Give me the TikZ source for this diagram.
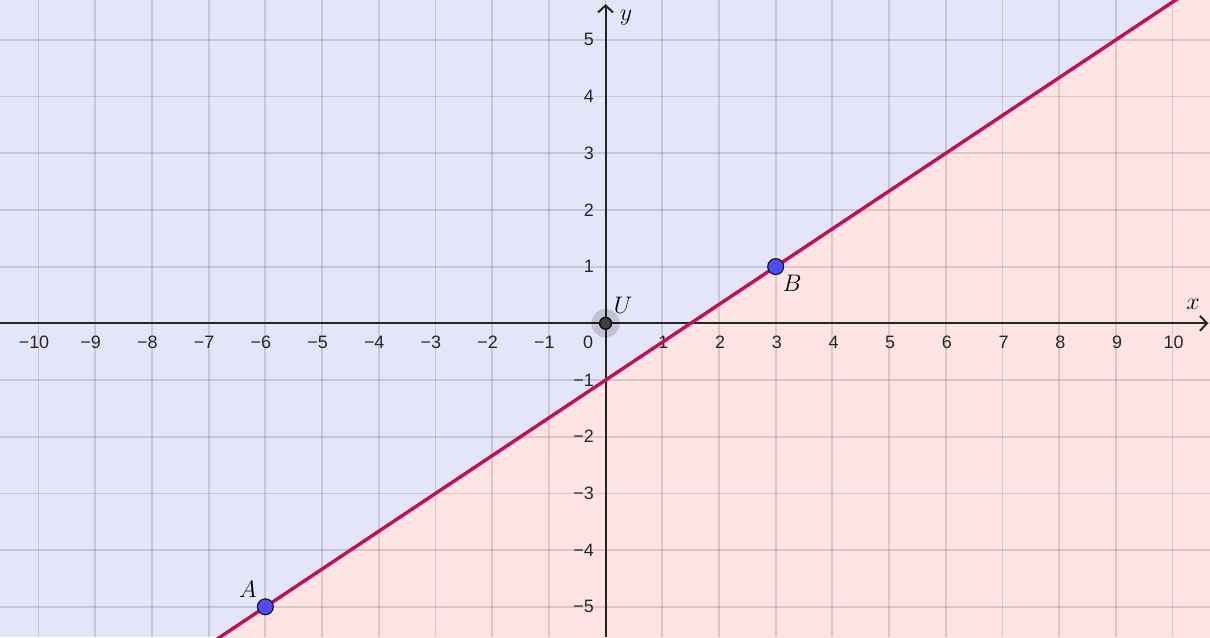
\documentclass[tikz,border=0pt]{standalone}
\usepackage{fontspec}
\setmainfont{Liberation Sans}
\usetikzlibrary{arrows.meta,calc}
\definecolor{planeblue}{RGB}{229,229,250}
\definecolor{planepink}{RGB}{255,228,228}
\definecolor{linecrimson}{RGB}{194,16,80}
\definecolor{ptblue}{RGB}{77,77,255}
\definecolor{axisdark}{RGB}{37,37,37}
\definecolor{ptdark}{RGB}{64,64,64}

\begin{document}
\begin{tikzpicture}[
  gridline/.style={black,opacity=0.13,line width=0.9pt},
  axisline/.style={axisdark,line width=1pt,-{Straight Barb[length=3.5pt,width=7.5pt]}},
  ticklabel/.style={font=\fontsize{9}{10}\selectfont,text=black!85,inner sep=0pt},
  ptlabel/.style={font=\fontsize{11.5}{13}\selectfont,inner sep=0pt},
  bluept/.style={circle,draw=black!90,fill=ptblue,line width=0.6pt,minimum size=0.28cm,inner sep=0pt},
  darkpt/.style={circle,draw=black,fill=ptdark,line width=0.6pt,minimum size=0.21cm,inner sep=0pt}
]
\useasboundingbox (-10.68,-5.533) rectangle (10.66,5.702);
\coordinate (O) at (0,0);
\coordinate (A) at (-6,-5);
\coordinate (B) at (3,1);

% half planes and grid
\begin{scope}
  \clip (-10.68,-5.533) rectangle (10.66,5.702);
  \fill[planeblue] (-10.68,-5.533) rectangle (10.66,5.702);
  \fill[planepink] ($(A)!-1!(B)$) -- ($(A)!2!(B)$) -- (14,-12) -- cycle;
  \foreach \x in {-10,...,10} \draw[gridline] (\x,-5.533) -- (\x,5.702);
  \foreach \y in {-5,...,5} \draw[gridline] (-10.68,\y) -- (10.66,\y);
\end{scope}

% axes
\draw[axisline] (-10.68,0) -- (10.63,0);
\draw[axisline] (0,-5.533) -- (0,5.63);
\node[ptlabel] (xlab) at (10.36,0.34) {$x$};
\node[ptlabel] (ylab) at (0.36,5.39) {$y$};

% tick labels
\foreach \x in {1,...,10} \node[ticklabel] (xt\x) at (\x+0.02,-0.33) {\x};
\foreach \x in {1,...,10} \node[ticklabel] (xtm\x) at (-\x-0.08,-0.33) {−\x};
\foreach \y in {1,...,5} \node[ticklabel,anchor=east] (yt\y) at (-0.2,\y) {\y};
\foreach \y in {1,...,5} \node[ticklabel,anchor=east] (ytm\y) at (-0.2,-\y) {−\y};
\node[ticklabel] (zero) at (-0.31,-0.33) {0};

% the line through A and B
\begin{scope}
  \clip (-10.68,-5.533) rectangle (10.66,5.702);
  \draw[linecrimson,line width=1.7pt] ($(A)!-1!(B)$) -- ($(A)!2!(B)$);
\end{scope}

% points
\fill[black,opacity=0.15] (O) circle (0.25);
\node[darkpt] (U) at (O) {};
\node[ptlabel] at (0.31,0.31) {$U$};
\node[bluept] (pA) at (A) {};
\node[ptlabel] at (-6.31,-4.70) {$A$};
\node[bluept] (pB) at (B) {};
\node[ptlabel] at (3.29,0.71) {$B$};
\end{tikzpicture}
\end{document}
